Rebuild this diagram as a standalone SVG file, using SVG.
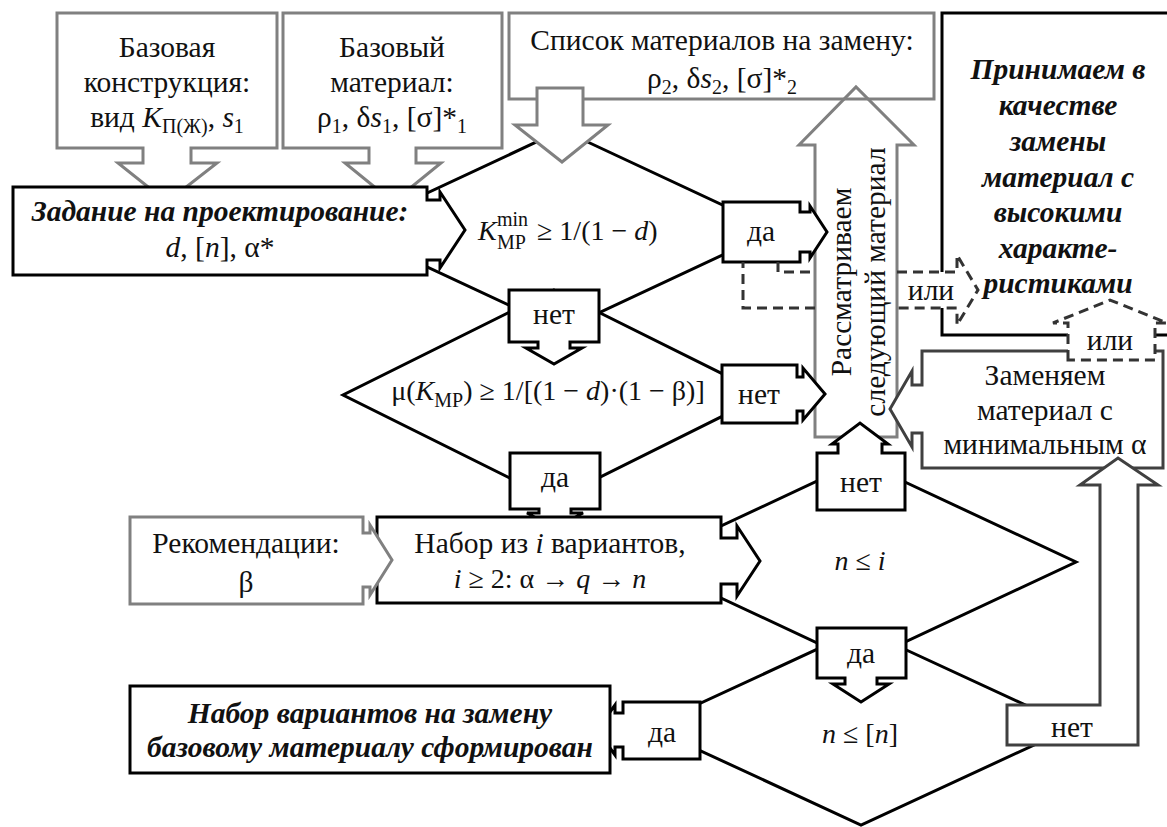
<svg xmlns="http://www.w3.org/2000/svg" width="1167" height="827" viewBox="0 0 1167 827" font-family="'Liberation Serif', 'Times New Roman', 'DejaVu Serif', serif">
<defs>
<style>
.g{fill:#fff;stroke:#808080;stroke-width:3;stroke-linejoin:miter}
.gn{fill:none;stroke:#808080;stroke-width:3}
.b{fill:#fff;stroke:#000;stroke-width:3}
.bn{fill:none;stroke:#000;stroke-width:3}
.d{fill:#fff;stroke:#404040;stroke-width:3}
.dia{fill:none;stroke:#000;stroke-width:3}
.dash{fill:#fff;stroke:#333;stroke-width:3;stroke-dasharray:10 6}
.dashn{fill:none;stroke:#333;stroke-width:3;stroke-dasharray:10 6}
text{font-size:29.5px;fill:#111}
.f{font-size:28px}
.c{text-anchor:middle}
.i{font-style:italic}
.bi{font-weight:bold;font-style:italic}
.s{font-size:20px}
</style>
</defs>
<rect x="0" y="0" width="1167" height="827" fill="#fff"/>

<g id="decision1"><polygon class="dia" points="562,130 776,230 562,330 348,230"/></g>
<g id="decision2"><polygon class="dia" points="554,290 765,395 554,500 343,395"/></g>
<g id="decision3"><polygon class="dia" points="860,461 1076,562 860,663 644,562"/></g>
<g id="decision4"><polygon class="dia" points="861,629 1073,727 861,825 649,727"/></g>

<g id="accept-high">
<path class="bn" d="M942,272 V13 H1182 M942,308 V335 H1182"/>
<text class="c bi" x="1058" y="79">Принимаем в</text>
<text class="c bi" x="1058" y="115">качестве</text>
<text class="c bi" x="1058" y="151">замены</text>
<text class="c bi" x="1058" y="187">материал с</text>
<text class="c bi" x="1058" y="222">высокими</text>
<text class="c bi" x="1058" y="258">характе-</text>
<text class="c bi" x="1058" y="293">ристиками</text>
</g>

<g id="base-design">
<path class="g" d="M57,13 H277 V148 H191 V163 H217 L167,202 L118,163 H143 V148 H57 Z"/>
<text class="c" x="167" y="57">Базовая</text>
<text class="c" x="167" y="92">конструкция:</text>
<text class="c" x="167" y="127">вид <tspan class="i">K</tspan><tspan class="s" dy="6">П(Ж)</tspan><tspan dy="-6">, </tspan><tspan class="i">s</tspan><tspan class="s" dy="6">1</tspan></text>
</g>

<g id="base-material">
<path class="g" d="M283,13 H502 V148 H416 V163 H441 L393,202 L345,163 H369 V148 H283 Z"/>
<text class="c" x="392" y="57">Базовый</text>
<text class="c" x="392" y="92">материал:</text>
<text class="c" x="392" y="127">ρ<tspan class="s" dy="6">1</tspan><tspan dy="-6">, δ</tspan><tspan class="i">s</tspan><tspan class="s" dy="6">1</tspan><tspan dy="-6">, [σ]*</tspan><tspan class="s" dy="6">1</tspan></text>
</g>

<g id="next-material">
<path class="g" d="M815,437 V145 H799 L856,87 L914,145 H897 V437 Z"/>
<text class="c" transform="translate(851,282) rotate(-90)" x="0" y="0">Рассматриваем</text>
<text class="c" transform="translate(885,282) rotate(-90)" x="0" y="0">следующий материал</text>
</g>

<g id="material-list">
<rect class="gn" x="509" y="13" width="425" height="86"/>
<path class="g" d="M537,88 H583 V125 H608 L562,162 L515,125 H537 Z"/>
<text class="c" x="722" y="50">Список материалов на замену:</text>
<text class="c" x="722" y="88">ρ<tspan class="s" dy="6">2</tspan><tspan dy="-6">, δ</tspan><tspan class="i">s</tspan><tspan class="s" dy="6">2</tspan><tspan dy="-6">, [σ]*</tspan><tspan class="s" dy="6">2</tspan></text>
</g>

<g id="task">
<path class="b" d="M13,187 H427 V200 H440 V192 L465,230 L440,268 V260 H427 V275 H13 Z"/>
<text class="c bi" x="220" y="221">Задание на проектирование:</text>
<text class="c" x="220" y="257"><tspan class="i">d</tspan>, [<tspan class="i">n</tspan>], α*</text>
</g>

<g id="cond1-text">
<text class="i f" x="478" y="240">K</text>
<text class="s" x="497" y="226">min</text>
<text class="s" x="497" y="249">MP</text>
<text class="f" x="537" y="240">≥ 1/(1 − <tspan class="i">d</tspan>)</text>
</g>

<g id="yes1">
<path class="b" d="M723,202 H800 V212 H810 V206 L827,232 L810,258 V252 H800 V262 H723 Z"/>
<text class="c" x="761" y="241">да</text>
</g>

<g id="no1">
<path class="b" d="M509,290 H599 V342 H570 V348 H582 L554,364 L526,348 H538 V342 H509 Z"/>
<text class="c" x="554" y="324">нет</text>
</g>

<g id="cond2-text">
<text class="c f" x="548" y="400">μ(<tspan class="i">K</tspan><tspan class="s" dy="7">MP</tspan><tspan dy="-7">) ≥ 1/[(1 − </tspan><tspan class="i">d</tspan>)·(1 − β)]</text>
</g>

<g id="no2">
<path class="b" d="M722,365 H797 V377 H803 V368 L825,394 L803,420 V411 H797 V423 H722 Z"/>
<text class="c" x="759" y="404">нет</text>
</g>

<g id="replace-min">
<path class="d" d="M922,351 H1163 V468 H922 V433 H912 V447 L890,409 L912,371 V385 H922 Z"/>
<text class="c" x="1045" y="385">Заменяем</text>
<text class="c" x="1045" y="420">материал с</text>
<text class="c" x="1045" y="454">минимальным α</text>
</g>

<g id="yes2">
<path class="b" d="M510,453 H600 V509 H571 V513 H583 L555,528 L527,513 H539 V509 H510 Z"/>
<text class="c" x="555" y="487">да</text>
</g>

<g id="variants">
<path class="b" d="M377,517 H721 V538 H737 V526 L760,561 L737,596 V584 H721 V603 H377 Z"/>
<text class="c" x="550" y="553">Набор из <tspan class="i">i</tspan> вариантов,</text>
<text class="c f" x="550" y="588"><tspan class="i">i</tspan> ≥ 2: α → <tspan class="i">q</tspan> → <tspan class="i">n</tspan></text>
</g>

<g id="recommend">
<path class="g" d="M130,517 H363 V533 H370 V525 L392,560 L370,595 V587 H363 V604 H130 Z"/>
<text class="c" x="246" y="553">Рекомендации:</text>
<text class="c" x="246" y="592">β</text>
</g>

<g id="no3">
<path class="b" d="M817,510 V453 H838 V444 H832 L860,423 L888,444 H882 V453 H905 V510 Z"/>
<text class="c" x="861" y="492">нет</text>
</g>

<g id="cond3-text">
<text class="c f" x="860" y="570"><tspan class="i">n</tspan> ≤ <tspan class="i">i</tspan></text>
</g>

<g id="yes3">
<path class="b" d="M817,628 H906 V678 H877 V684 H889 L861,702 L833,684 H845 V678 H817 Z"/>
<text class="c" x="861" y="663">да</text>
</g>

<g id="cond4-text">
<text class="c f" x="860" y="743"><tspan class="i">n</tspan> ≤ [<tspan class="i">n</tspan>]</text>
</g>

<g id="yes4">
<path class="b" d="M700,702 V759 H623 V747 H615 V755 L597,730 L615,705 V713 H623 V702 Z"/>
<text class="c" x="662" y="742">да</text>
</g>

<g id="result">
<rect class="b" x="130" y="686" width="480" height="87"/>
<text class="c bi" x="370" y="723">Набор вариантов на замену</text>
<text class="c bi" x="370" y="757">базовому материалу сформирован</text>
</g>

<g id="no4">
<path class="d" d="M1007,705 H1100 V485 H1080 L1118,458 L1158,485 H1138 V745 H1007 Z"/>
<text class="c" x="1072" y="737">нет</text>
</g>

<g id="connectors">
<path class="dashn" d="M778,262 V272 H815 M897,272 H957 V255 L978,290 L957,325 V308 H897 M815,308 H743 V262"/>
<text class="c" x="931" y="300">или</text>
<path class="dash" d="M1068,360 V323 H1053 L1110,300 L1167,323 H1155 V360 Z"/>
<text class="c" x="1110" y="350">или</text>
</g>
</svg>
